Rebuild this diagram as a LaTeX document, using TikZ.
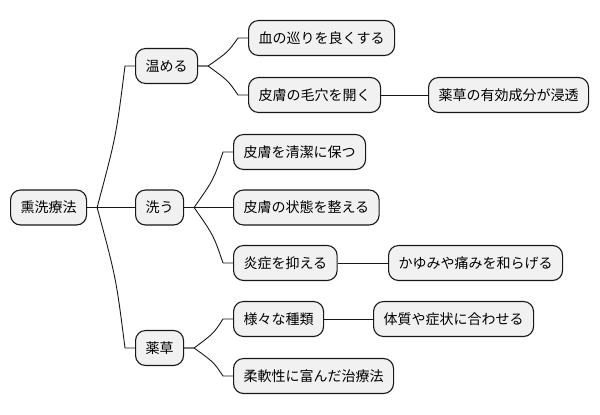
\documentclass[tikz,border=0pt]{standalone}
\usepackage{fontspec}
\newfontfamily\cjk{Noto Sans CJK JP}
\usetikzlibrary{calc}
\definecolor{boxfill}{HTML}{F1F1F1}
\definecolor{boxline}{HTML}{181818}
\tikzset{
  mmbox/.style={draw=boxline, fill=boxfill, line width=1.1pt, rounded corners=10pt,
    inner xsep=10pt, inner ysep=0pt, minimum height=35pt, anchor=west,
    font=\cjk\fontsize{14}{16}\selectfont},
  link/.style={draw=boxline, line width=0.9pt}
}
\newcommand{\curvelink}[2]{%
  \draw[link] (#1.east) -- ($(#1.east)+(10pt,0)$) coordinate (#1#2s)
    .. controls ($(#1#2s)!0.5!(#2.west)-(0,0)$ |- #1#2s) and ($(#1#2s)!0.5!(#2.west)$ |- #2.west) .. ($(#2.west)-(10pt,0)$) -- (#2.west);}
\begin{document}
\begin{tikzpicture}[x=1pt,y=-1pt]
\useasboundingbox (0,0) rectangle (600,415);
\node[mmbox] (root) at (10,207.5) {熏洗療法};
\node[mmbox] (a) at (135,66) {温める};
\node[mmbox] (a1) at (248,38) {血の巡りを良くする};
\node[mmbox] (a2) at (248,95) {皮膚の毛穴を開く};
\node[mmbox] (a21) at (428,95) {薬草の有効成分が浸透};
\node[mmbox] (b) at (135,207.5) {洗う};
\node[mmbox] (b1) at (233,152) {皮膚を清潔に保つ};
\node[mmbox] (b2) at (233,207.5) {皮膚の状態を整える};
\node[mmbox] (b3) at (233,263) {炎症を抑える};
\node[mmbox] (b31) at (388,263) {かゆみや痛みを和らげる};
\node[mmbox] (c) at (135,348) {薬草};
\node[mmbox] (c1) at (233,319) {様々な種類};
\node[mmbox] (c11) at (373,319) {体質や症状に合わせる};
\node[mmbox] (c2) at (233,376) {柔軟性に富んだ治療法};
\curvelink{root}{a}
\draw[link] (root.east) -- (b.west);
\curvelink{root}{c}
\curvelink{a}{a1}
\curvelink{a}{a2}
\draw[link] (a2.east) -- (a21.west);
\curvelink{b}{b1}
\draw[link] (b.east) -- (b2.west);
\curvelink{b}{b3}
\draw[link] (b3.east) -- (b31.west);
\curvelink{c}{c1}
\curvelink{c}{c2}
\draw[link] (c1.east) -- (c11.west);
\end{tikzpicture}
\end{document}
